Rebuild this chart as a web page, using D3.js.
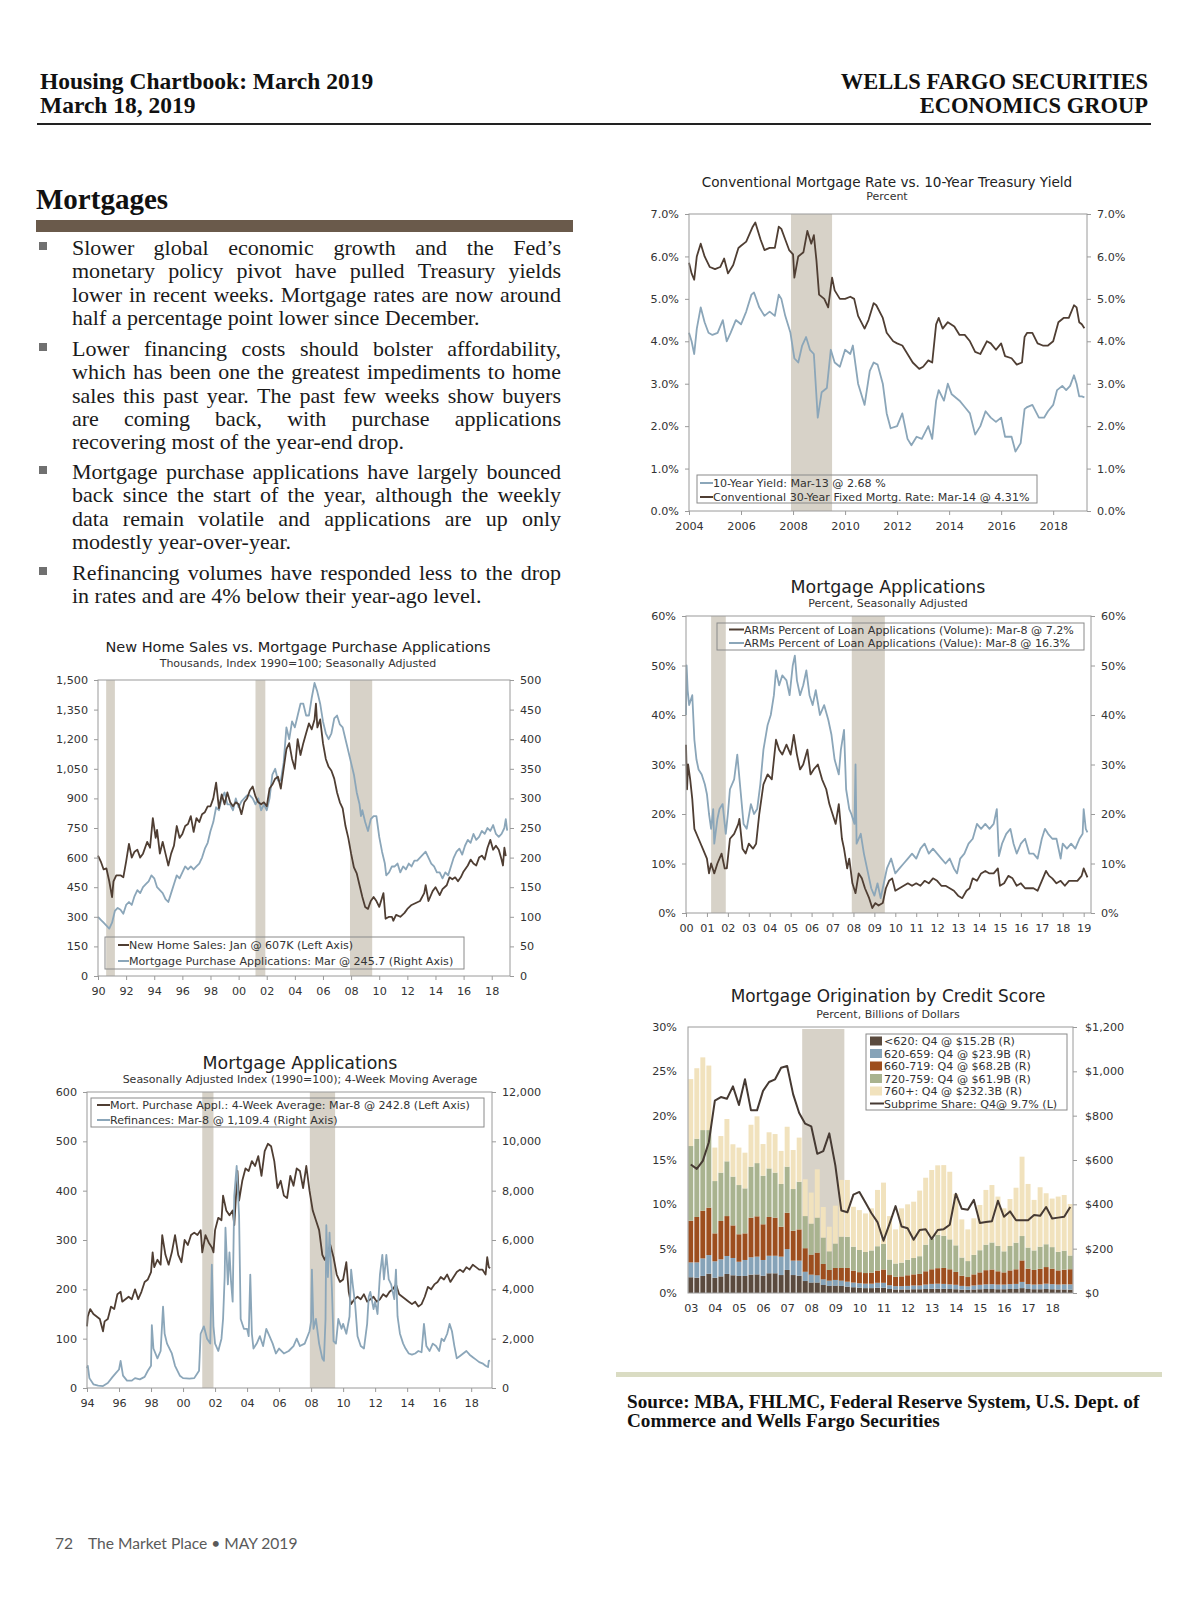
<!DOCTYPE html>
<html>
<head>
<meta charset="utf-8">
<script src="https://cdn.jsdelivr.net/npm/d3@7"></script>
<style>
  body { margin: 0; background: #fff; }
  #page { position: relative; width: 1200px; height: 1606px; overflow: hidden; background: #fff; }
</style>
</head>
<body>
<div id="page"></div>
<script>
// ---------- data ----------
// Conventional mortgage rate vs 10-year treasury [year, %]
const mortgageRate = [[2004.0,5.85],[2004.1,5.6],[2004.2,5.45],[2004.3,6.0],[2004.45,6.3],[2004.6,6.0],[2004.8,5.75],[2005.0,5.7],[2005.2,5.75],[2005.35,5.95],[2005.5,5.6],[2005.7,5.8],[2005.9,6.2],[2006.0,6.25],[2006.2,6.35],[2006.45,6.7],[2006.55,6.8],[2006.75,6.4],[2006.9,6.15],[2007.1,6.2],[2007.3,6.2],[2007.45,6.7],[2007.55,6.65],[2007.7,6.4],[2007.85,6.15],[2008.0,6.05],[2008.05,5.5],[2008.2,6.0],[2008.4,6.1],[2008.55,6.6],[2008.7,6.3],[2008.8,6.5],[2008.9,5.9],[2009.0,5.1],[2009.2,5.0],[2009.35,4.8],[2009.5,5.5],[2009.6,5.2],[2009.8,5.0],[2010.0,5.0],[2010.2,5.05],[2010.35,5.0],[2010.5,4.6],[2010.75,4.3],[2010.9,4.5],[2011.1,4.9],[2011.2,4.85],[2011.45,4.55],[2011.6,4.2],[2011.85,4.0],[2012.0,3.95],[2012.2,3.9],[2012.4,3.7],[2012.6,3.5],[2012.85,3.35],[2013.0,3.4],[2013.2,3.55],[2013.35,3.5],[2013.5,4.4],[2013.6,4.55],[2013.75,4.3],[2013.95,4.45],[2014.2,4.35],[2014.4,4.15],[2014.6,4.15],[2014.8,4.0],[2015.0,3.75],[2015.2,3.7],[2015.45,4.0],[2015.6,3.95],[2015.8,3.8],[2016.0,3.95],[2016.15,3.65],[2016.4,3.6],[2016.6,3.45],[2016.8,3.5],[2016.9,4.1],[2017.0,4.2],[2017.2,4.2],[2017.4,3.95],[2017.6,3.9],[2017.8,3.9],[2018.0,4.0],[2018.2,4.45],[2018.4,4.55],[2018.6,4.55],[2018.8,4.85],[2018.9,4.8],[2019.0,4.45],[2019.1,4.4],[2019.2,4.31]];
const treasuryYield = [[2004.0,4.2],[2004.1,4.0],[2004.2,3.7],[2004.3,4.3],[2004.45,4.8],[2004.6,4.45],[2004.75,4.2],[2004.9,4.15],[2005.1,4.2],[2005.3,4.5],[2005.45,4.0],[2005.6,4.2],[2005.8,4.5],[2006.0,4.4],[2006.2,4.7],[2006.4,5.1],[2006.5,5.15],[2006.7,4.8],[2006.9,4.6],[2007.1,4.7],[2007.3,4.6],[2007.45,5.1],[2007.55,5.0],[2007.7,4.6],[2007.9,4.2],[2008.05,3.6],[2008.2,3.5],[2008.35,3.9],[2008.5,4.1],[2008.65,3.8],[2008.8,3.7],[2008.95,2.2],[2009.1,2.8],[2009.3,2.9],[2009.45,3.8],[2009.6,3.5],[2009.8,3.4],[2010.0,3.8],[2010.2,3.7],[2010.3,3.9],[2010.5,3.0],[2010.75,2.5],[2010.95,3.3],[2011.1,3.5],[2011.25,3.45],[2011.45,3.0],[2011.6,2.3],[2011.75,1.95],[2012.0,2.0],[2012.2,2.3],[2012.4,1.7],[2012.55,1.55],[2012.75,1.75],[2012.95,1.7],[2013.2,2.0],[2013.35,1.7],[2013.5,2.6],[2013.6,2.85],[2013.8,2.6],[2013.95,3.0],[2014.1,2.75],[2014.4,2.6],[2014.6,2.45],[2014.8,2.3],[2015.0,1.8],[2015.2,2.0],[2015.4,2.35],[2015.6,2.2],[2015.8,2.1],[2016.0,2.2],[2016.15,1.75],[2016.4,1.75],[2016.55,1.4],[2016.75,1.6],[2016.9,2.4],[2017.0,2.45],[2017.2,2.5],[2017.45,2.2],[2017.65,2.2],[2017.8,2.35],[2018.0,2.5],[2018.15,2.85],[2018.35,2.95],[2018.5,2.85],[2018.65,2.95],[2018.8,3.2],[2018.9,3.0],[2019.0,2.7],[2019.1,2.7],[2019.2,2.68]];

// ARMs percent of loan applications [year, %]
const armVolume = [[2000.0,34],[2000.05,25],[2000.1,30],[2000.2,27],[2000.3,23],[2000.4,17],[2000.6,15],[2000.8,13],[2001.0,11],[2001.1,8],[2001.2,10],[2001.35,8],[2001.5,10],[2001.7,12],[2001.85,9],[2001.95,9],[2002.1,15],[2002.3,16],[2002.5,18],[2002.55,19],[2002.7,13],[2002.85,12],[2003.0,14],[2003.2,13],[2003.35,14],[2003.5,20],[2003.7,26],[2003.9,28],[2004.1,27],[2004.3,35],[2004.45,33],[2004.6,32],[2004.8,34],[2005.0,32],[2005.15,36],[2005.3,32],[2005.45,29],[2005.6,30],[2005.8,33],[2005.95,28],[2006.1,29],[2006.3,30],[2006.5,27],[2006.7,25],[2006.85,22],[2007.0,20],[2007.15,18],[2007.3,22],[2007.45,15],[2007.55,13],[2007.7,9],[2007.8,11],[2007.95,6],[2008.1,4],[2008.25,8],[2008.4,7],[2008.55,5],[2008.75,3],[2008.9,1],[2009.05,2],[2009.2,1.5],[2009.4,2],[2009.55,5],[2009.7,6.5],[2009.85,7],[2010.0,4.5],[2010.2,5],[2010.4,5.5],[2010.6,6],[2010.8,5.5],[2011.0,6],[2011.2,5.5],[2011.4,6.5],[2011.6,6],[2011.8,7],[2012.0,6.5],[2012.2,5.5],[2012.4,5.5],[2012.6,5],[2012.8,4.5],[2013.0,3.5],[2013.2,3.0],[2013.4,4.5],[2013.55,5],[2013.7,7],[2013.9,6.5],[2014.1,8],[2014.3,8.5],[2014.5,8],[2014.7,8],[2014.9,9],[2015.0,5.5],[2015.2,6],[2015.4,7.5],[2015.6,7],[2015.8,5.5],[2016.0,6],[2016.2,5],[2016.4,5],[2016.6,5],[2016.8,4.5],[2017.0,6.5],[2017.2,8.5],[2017.35,7.5],[2017.5,7],[2017.7,6],[2017.9,6.5],[2018.1,5.5],[2018.3,6.5],[2018.5,6.5],[2018.7,6.5],[2018.9,7.5],[2019.0,9],[2019.1,8],[2019.18,7.2]];
const armValue = [[2000.0,40],[2000.03,50],[2000.08,45],[2000.15,42],[2000.3,44],[2000.4,35],[2000.5,31],[2000.6,29],[2000.75,28],[2000.9,26],[2001.0,24],[2001.1,20],[2001.2,17],[2001.3,21],[2001.35,14],[2001.5,19],[2001.6,21],[2001.75,22],[2001.9,16],[2002.0,20],[2002.1,25],[2002.3,27],[2002.45,32],[2002.6,25],[2002.75,18],[2002.9,17],[2003.1,22],[2003.25,20],[2003.4,21],[2003.55,26],[2003.7,33],[2003.9,38],[2004.05,40],[2004.2,44],[2004.3,49],[2004.45,46],[2004.6,48],[2004.8,47],[2004.95,44],[2005.1,50],[2005.2,52],[2005.3,47],[2005.45,44],[2005.6,46],[2005.75,49],[2005.9,44],[2006.05,42],[2006.2,45],[2006.4,40],[2006.6,42],[2006.8,39],[2006.95,36],[2007.1,31],[2007.3,28],[2007.4,33],[2007.55,37],[2007.65,25],[2007.8,21],[2007.9,20],[2008.05,18],[2008.1,30],[2008.15,14],[2008.35,16],[2008.5,12],[2008.7,8],[2008.85,5],[2009.0,3.5],[2009.15,6],[2009.3,3],[2009.45,6],[2009.6,9],[2009.8,11],[2010.0,8],[2010.2,9],[2010.4,10],[2010.6,11],[2010.8,12],[2011.0,11],[2011.2,13],[2011.4,14],[2011.6,12],[2011.8,13],[2012.0,12],[2012.2,11],[2012.4,10],[2012.6,11],[2012.8,9],[2012.95,8],[2013.1,11],[2013.3,12],[2013.5,14],[2013.7,15],[2013.9,18],[2014.1,17],[2014.3,18],[2014.5,17],[2014.7,18],[2014.85,21],[2014.95,11.5],[2015.1,14],[2015.3,16],[2015.5,17],[2015.65,14],[2015.8,12],[2016.0,14],[2016.2,15],[2016.4,12],[2016.6,12],[2016.8,11],[2017.0,15],[2017.15,17],[2017.3,16],[2017.5,15],[2017.7,15],[2017.9,11],[2018.0,14],[2018.2,13],[2018.4,14],[2018.6,13],[2018.8,15],[2018.95,16],[2019.0,21],[2019.1,17],[2019.18,16.3]];

// New home sales (thousands) and purchase applications index
const newHomeSales = [[1990.0,610],[1990.2,580],[1990.4,540],[1990.6,545],[1990.8,480],[1991.0,400],[1991.1,480],[1991.3,510],[1991.6,510],[1991.8,500],[1992.0,580],[1992.2,670],[1992.4,600],[1992.6,630],[1992.8,640],[1993.0,600],[1993.2,620],[1993.5,680],[1993.7,650],[1993.9,800],[1994.1,700],[1994.2,740],[1994.4,620],[1994.6,680],[1994.8,620],[1995.0,560],[1995.2,620],[1995.4,660],[1995.6,760],[1995.8,700],[1996.0,720],[1996.2,760],[1996.4,770],[1996.6,810],[1996.8,730],[1997.0,800],[1997.2,780],[1997.4,820],[1997.6,830],[1997.8,860],[1998.0,860],[1998.2,900],[1998.4,980],[1998.6,850],[1998.8,920],[1999.0,870],[1999.2,930],[1999.4,880],[1999.6,860],[1999.8,880],[2000.0,870],[2000.2,820],[2000.4,880],[2000.6,900],[2000.8,940],[2001.0,960],[2001.2,910],[2001.4,880],[2001.6,870],[2001.8,880],[2002.0,860],[2002.2,950],[2002.4,970],[2002.6,1000],[2002.8,1010],[2003.0,950],[2003.2,1050],[2003.4,1150],[2003.6,1180],[2003.8,1100],[2004.0,1050],[2004.2,1200],[2004.4,1120],[2004.6,1180],[2004.8,1230],[2005.0,1280],[2005.2,1250],[2005.4,1300],[2005.5,1380],[2005.6,1260],[2005.8,1300],[2006.0,1180],[2006.2,1100],[2006.4,1060],[2006.6,1040],[2006.8,1000],[2007.0,930],[2007.2,880],[2007.4,850],[2007.6,760],[2007.8,700],[2008.0,620],[2008.2,550],[2008.4,520],[2008.6,460],[2008.8,400],[2009.0,350],[2009.2,340],[2009.4,380],[2009.6,400],[2009.8,380],[2010.0,350],[2010.3,420],[2010.45,290],[2010.7,300],[2010.9,300],[2011.0,280],[2011.2,310],[2011.5,300],[2011.8,320],[2012.0,340],[2012.3,360],[2012.6,370],[2012.9,380],[2013.2,420],[2013.3,460],[2013.5,380],[2013.8,430],[2014.0,450],[2014.3,410],[2014.5,440],[2014.8,460],[2015.0,500],[2015.2,490],[2015.4,500],[2015.6,480],[2015.8,500],[2016.0,530],[2016.3,560],[2016.5,590],[2016.7,570],[2016.9,560],[2017.1,600],[2017.3,610],[2017.5,590],[2017.7,650],[2017.9,690],[2018.1,640],[2018.3,660],[2018.5,640],[2018.7,590],[2018.8,560],[2018.9,650],[2019.0,607]];
const purchaseApps = [[1990.0,100],[1990.2,95],[1990.4,90],[1990.6,85],[1990.8,80],[1991.0,90],[1991.2,110],[1991.4,115],[1991.6,112],[1991.8,105],[1992.0,120],[1992.2,125],[1992.4,120],[1992.6,135],[1992.8,145],[1993.0,140],[1993.2,150],[1993.4,155],[1993.6,160],[1993.8,170],[1994.0,165],[1994.2,150],[1994.4,145],[1994.6,140],[1994.8,130],[1995.0,125],[1995.2,140],[1995.4,155],[1995.6,170],[1995.8,165],[1996.0,175],[1996.2,185],[1996.4,180],[1996.6,185],[1996.8,180],[1997.0,185],[1997.2,190],[1997.4,200],[1997.6,215],[1997.8,225],[1998.0,245],[1998.2,260],[1998.4,285],[1998.6,280],[1998.8,300],[1999.0,310],[1999.2,290],[1999.4,290],[1999.6,280],[1999.8,300],[2000.0,285],[2000.2,295],[2000.4,300],[2000.6,305],[2000.8,305],[2001.0,300],[2001.2,290],[2001.4,300],[2001.6,280],[2001.8,290],[2001.9,285],[2002.0,280],[2002.2,300],[2002.4,340],[2002.6,350],[2002.8,330],[2003.0,330],[2003.2,360],[2003.4,420],[2003.6,400],[2003.8,430],[2004.0,420],[2004.2,440],[2004.4,460],[2004.6,460],[2004.8,440],[2005.0,440],[2005.2,470],[2005.4,495],[2005.6,480],[2005.8,460],[2006.0,430],[2006.2,410],[2006.4,400],[2006.6,410],[2006.8,435],[2007.0,440],[2007.2,425],[2007.4,420],[2007.6,400],[2007.8,380],[2008.0,360],[2008.2,340],[2008.4,310],[2008.6,290],[2008.7,270],[2008.8,280],[2009.0,260],[2009.2,245],[2009.4,265],[2009.6,270],[2009.8,270],[2010.0,235],[2010.2,210],[2010.4,190],[2010.5,170],[2010.7,175],[2010.9,185],[2011.1,185],[2011.3,190],[2011.5,175],[2011.7,185],[2011.9,180],[2012.1,190],[2012.3,185],[2012.5,195],[2012.7,195],[2012.9,200],[2013.1,205],[2013.3,210],[2013.5,200],[2013.7,190],[2013.9,185],[2014.1,175],[2014.3,175],[2014.5,165],[2014.7,175],[2014.9,170],[2015.1,185],[2015.3,200],[2015.5,210],[2015.7,215],[2015.9,205],[2016.1,220],[2016.3,230],[2016.5,225],[2016.7,240],[2016.9,230],[2017.1,235],[2017.3,245],[2017.5,240],[2017.7,250],[2017.9,245],[2018.1,255],[2018.3,240],[2018.5,235],[2018.7,240],[2018.9,250],[2019.0,265],[2019.1,245.7]];

// Purchase 4-week average (index) and refinances (index)
const purchase4wk = [[1994.0,125],[1994.05,145],[1994.2,160],[1994.4,150],[1994.6,145],[1994.8,140],[1995.0,115],[1995.1,135],[1995.3,140],[1995.5,165],[1995.7,160],[1995.9,190],[1996.1,195],[1996.2,175],[1996.4,180],[1996.6,185],[1996.8,180],[1997.0,200],[1997.2,180],[1997.4,195],[1997.6,215],[1997.8,220],[1998.0,235],[1998.1,275],[1998.2,245],[1998.4,260],[1998.6,250],[1998.7,310],[1998.9,270],[1999.1,250],[1999.3,275],[1999.5,310],[1999.7,270],[1999.9,255],[2000.1,300],[2000.3,290],[2000.5,310],[2000.7,315],[2000.9,310],[2001.1,320],[2001.2,275],[2001.4,310],[2001.6,295],[2001.8,285],[2001.9,275],[2002.0,320],[2002.2,345],[2002.4,340],[2002.5,390],[2002.7,360],[2002.9,350],[2003.1,360],[2003.2,330],[2003.4,440],[2003.5,380],[2003.7,420],[2003.9,445],[2004.1,440],[2004.3,460],[2004.5,450],[2004.7,470],[2004.9,430],[2005.1,480],[2005.3,495],[2005.5,490],[2005.7,460],[2005.9,405],[2006.1,420],[2006.3,390],[2006.5,385],[2006.7,430],[2006.9,410],[2007.1,445],[2007.3,440],[2007.5,405],[2007.7,450],[2007.9,400],[2008.1,360],[2008.3,340],[2008.5,320],[2008.7,270],[2008.85,260],[2009.0,270],[2009.2,290],[2009.4,265],[2009.6,230],[2009.8,215],[2010.0,220],[2010.2,255],[2010.35,195],[2010.5,170],[2010.7,180],[2010.9,185],[2011.1,180],[2011.3,190],[2011.5,175],[2011.7,180],[2011.9,185],[2012.1,175],[2012.3,180],[2012.5,190],[2012.7,185],[2012.9,195],[2013.1,200],[2013.3,210],[2013.5,190],[2013.7,185],[2013.9,180],[2014.1,175],[2014.3,170],[2014.5,175],[2014.7,165],[2014.9,170],[2015.1,185],[2015.3,205],[2015.5,200],[2015.7,210],[2015.9,215],[2016.1,225],[2016.3,220],[2016.5,230],[2016.7,215],[2016.9,225],[2017.1,235],[2017.3,240],[2017.5,235],[2017.7,245],[2017.9,240],[2018.1,250],[2018.3,245],[2018.5,240],[2018.7,240],[2018.9,230],[2019.0,265],[2019.1,245],[2019.18,242.8]];
const refinances = [[1994.0,800],[1994.05,900],[1994.15,400],[1994.4,150],[1994.7,100],[1995.0,80],[1995.3,200],[1995.6,450],[1995.8,600],[1996.0,750],[1996.1,1100],[1996.25,500],[1996.5,300],[1996.8,300],[1997.0,400],[1997.3,350],[1997.6,450],[1997.8,700],[1998.0,900],[1998.05,2550],[1998.15,1600],[1998.4,1200],[1998.6,1500],[1998.75,3300],[1998.85,2200],[1999.0,1800],[1999.3,1400],[1999.5,900],[1999.8,500],[2000.0,400],[2000.4,380],[2000.7,400],[2001.0,700],[2001.1,2200],[2001.3,2500],[2001.5,2000],[2001.7,1800],[2001.8,5000],[2001.9,2500],[2002.0,1800],[2002.2,1500],[2002.4,2000],[2002.5,2800],[2002.6,4500],[2002.65,6500],[2002.8,4200],[2002.9,5500],[2003.0,4300],[2003.1,3500],[2003.2,7800],[2003.35,9000],[2003.5,7000],[2003.6,2800],[2003.8,2400],[2004.0,2400],[2004.1,2100],[2004.2,4600],[2004.3,2200],[2004.4,1600],[2004.6,1800],[2004.8,2100],[2005.0,1700],[2005.2,2400],[2005.4,2100],[2005.6,1800],[2005.8,1400],[2006.0,1600],[2006.3,1400],[2006.6,1500],[2006.9,1700],[2007.1,2000],[2007.3,1700],[2007.6,1800],[2007.9,2300],[2008.0,2700],[2008.05,4800],[2008.15,2400],[2008.3,2800],[2008.5,1800],[2008.7,1200],[2008.8,1100],[2008.9,2800],[2008.95,6600],[2009.05,4500],[2009.15,6300],[2009.3,4000],[2009.4,1900],[2009.55,1800],[2009.7,2800],[2009.9,2400],[2010.0,2600],[2010.2,2200],[2010.4,2900],[2010.5,4800],[2010.6,4200],[2010.75,3400],[2010.9,2100],[2011.1,1700],[2011.3,1600],[2011.5,2600],[2011.6,3700],[2011.7,3900],[2011.9,3200],[2012.0,3500],[2012.15,3000],[2012.3,4600],[2012.45,5400],[2012.55,4400],[2012.7,5400],[2012.85,4400],[2013.0,4200],[2013.2,3600],[2013.3,4800],[2013.4,2900],[2013.55,2200],[2013.75,1800],[2013.9,1600],[2014.1,1400],[2014.3,1350],[2014.5,1400],[2014.7,1500],[2014.9,1450],[2015.05,2600],[2015.2,1700],[2015.4,1500],[2015.6,1800],[2015.8,1700],[2016.0,1500],[2016.15,2000],[2016.3,1900],[2016.5,2200],[2016.65,2600],[2016.8,2300],[2016.95,1700],[2017.1,1200],[2017.3,1300],[2017.5,1400],[2017.7,1500],[2017.9,1350],[2018.1,1250],[2018.3,1150],[2018.5,1050],[2018.7,1000],[2018.9,900],[2019.05,850],[2019.1,1100],[2019.18,1109.4]];

// Mortgage origination by credit score, $B per quarter, 2003Q1-2018Q4
const originYears = [2003,2004,2005,2006,2007,2008,2009,2010,2011,2012,2013,2014,2015,2016,2017,2018];
const score620 = [71,69,77,87, 69,75,86,80, 77,77,83,84, 78,89,89,81, 104,81,78,54, 47,47,36,32, 33,32,29,26, 24,22,22,24, 24,18,16,16, 16,17,17,18, 19,19,19,18, 17,15,14,16, 17,18,18,17, 17,18,18,22, 18,17,17,18, 17,16,16,15.2];
const score659 = [67,69,79,84, 74,77,81,78, 64,72,78,80, 71,79,79,83, 94,65,68,42, 36,33,26,24, 26,24,22,21, 20,20,20,22, 22,17,15,15, 16,17,17,20, 22,23,22,21, 20,17,16,18, 20,21,22,21, 21,22,23,28, 22,21,22,24, 23,22,23,23.9];
const score719 = [188,205,215,214, 126,173,180,147, 124,120,179,182, 161,175,172,135, 164,135,141,106, 90,102,69,48, 54,57,62,54, 50,48,50,55, 60,46,42,44, 48,50,52,60, 66,70,72,68, 58,46,42,50, 56,64,66,60, 55,62,66,97, 70,66,70,75, 70,64,66,68.2];
const score759 = [337,353,364,350, 236,218,247,220, 222,203,230,240, 219,219,203,193, 208,188,215,145, 140,158,119,84, 110,141,141,108, 100,95,100,110, 115,70,60,62, 70,74,80,120, 140,150,145,135, 120,82,72,88, 100,115,122,115, 95,110,120,110, 95,88,100,103, 97,84,86,61.9];
const score760 = [302,318,328,291, 151,165,191,146, 169,161,189,211, 143,163,174,149, 180,176,199,166, 140,218,138,111, 171,256,256,180, 180,174,190,254, 277,196,154,245, 250,254,296,302, 308,314,319,305, 232,172,143,165, 204,247,259,222, 194,212,248,358, 287,228,268,230, 219,249,251,232.3];
const subprimeShare = [14.5,14.0,14.9,17.0, 21.7,22.1,21.9,23.3, 21.2,24.1,20.6,20.6, 22.8,23.8,24.1,25.4, 25.6,22.4,20.3,19.1, 18.8,15.7,16.0,18.0, 14.4,9.3,9.1,11.1, 11.4,10.2,9.0,8.0, 5.9,7.8,9.8,7.5, 7.3,6.0,7.1,7.2, 6.1,7.1,7.2,7.7, 11.2,9.5,9.4,10.5, 7.9,8.0,8.1,10.4, 8.6,9.2,8.2,8.2, 8.2,8.8,8.7,9.7, 8.4,8.5,8.6,9.7];

// recessions
const recessions90s = [[1990.58,1991.2],[2001.2,2001.9],[2007.92,2009.5]];

// text
const bullets = [
  ["Slower global economic growth and the Fed\u2019s", "monetary policy pivot have pulled Treasury yields", "lower in recent weeks. Mortgage rates are now around", "half a percentage point lower since December."],
  ["Lower financing costs should bolster affordability,", "which has been one the greatest impediments to home", "sales this past year. The past few weeks show buyers", "are coming back, with purchase applications", "recovering most of the year-end drop."],
  ["Mortgage purchase applications have largely bounced", "back since the start of the year, although the weekly", "data remain volatile and applications are up only", "modestly year-over-year."],
  ["Refinancing volumes have responded less to the drop", "in rates and are 4% below their year-ago level."]
];

// ---------- drawing ----------
const SANS = '"DejaVu Sans", Verdana, sans-serif';
const SERIF = '"Liberation Serif", "Times New Roman", serif';
const DARK = '#4f3e33', LIGHT = '#8ba6b9', REC = '#d7d2c8', AXIS = '#9a9a9a', TXT = '#333';
const TICK = 11.2, LEG = 11.1, SUB = 11;

const svg = d3.select('#page').append('svg').attr('width', 1200).attr('height', 1606)
  .style('position', 'absolute').style('left', 0).style('top', 0);

function styleAxis(g, size) {
  g.select('.domain').remove();
  g.selectAll('.tick line').attr('stroke', AXIS);
  g.selectAll('.tick text').attr('fill', TXT).style('font-family', SANS).style('font-size', size + 'px');
}

function lineChart(c) {
  const g = svg.append('g');
  const x = d3.scaleLinear().domain(c.xDomain).range([c.left, c.right]);
  const yL = d3.scaleLinear().domain(c.yL.domain).range([c.bottom, c.top]);
  const yR = d3.scaleLinear().domain(c.yR.domain).range([c.bottom, c.top]);

  g.selectAll('rect.rec').data(c.recessions).join('rect').attr('class', 'rec')
    .attr('x', d => x(d[0])).attr('width', d => x(d[1]) - x(d[0]))
    .attr('y', c.top).attr('height', c.bottom - c.top).attr('fill', REC);

  c.series.forEach(s => {
    const ys = s.axis === 'R' ? yR : yL;
    g.append('path').datum(s.data)
      .attr('d', d3.line().x(d => x(d[0])).y(d => ys(d[1])))
      .attr('fill', 'none').attr('stroke', s.color).attr('stroke-width', 1.8)
      .attr('stroke-linejoin', 'round');
  });

  g.append('rect').attr('x', c.left).attr('y', c.top)
    .attr('width', c.right - c.left).attr('height', c.bottom - c.top)
    .attr('fill', 'none').attr('stroke', AXIS).attr('stroke-width', 1);

  g.append('g').attr('transform', `translate(${c.left},0)`)
    .call(d3.axisLeft(yL).tickValues(c.yL.ticks).tickFormat(c.yL.format).tickSize(4).tickPadding(6))
    .call(a => styleAxis(a, TICK));
  g.append('g').attr('transform', `translate(${c.right},0)`)
    .call(d3.axisRight(yR).tickValues(c.yR.ticks).tickFormat(c.yR.format).tickSize(4).tickPadding(6))
    .call(a => styleAxis(a, TICK));
  g.append('g').attr('transform', `translate(0,${c.bottom})`)
    .call(d3.axisBottom(x).tickValues(c.xTicks).tickFormat(c.xFormat).tickSize(4).tickPadding(7))
    .call(a => styleAxis(a, TICK));

  drawTitles(g, c);
  drawLegend(g, c.legend);
}

function drawTitles(g, c) {
  g.append('text').attr('x', c.title.x).attr('y', c.title.y).attr('text-anchor', 'middle')
    .style('font-family', SANS).style('font-size', c.title.size + 'px').attr('fill', '#222')
    .text(c.title.text);
  g.append('text').attr('x', c.title.x).attr('y', c.subtitle.y).attr('text-anchor', 'middle')
    .style('font-family', SANS).style('font-size', SUB + 'px').attr('fill', TXT)
    .text(c.subtitle.text);
}

function drawLegend(g, lg) {
  g.append('rect').attr('x', lg.x0).attr('y', lg.y0).attr('width', lg.x1 - lg.x0).attr('height', lg.y1 - lg.y0)
    .attr('fill', 'none').attr('stroke', '#8a8a8a').attr('stroke-width', 1);
  lg.rows.forEach((r, i) => {
    const cy = lg.y0 + lg.first + i * lg.step;
    if (r.kind === 'box') {
      g.append('rect').attr('x', lg.sx).attr('y', cy - 4.5).attr('width', lg.tx - lg.sx - 2).attr('height', 9).attr('fill', r.color);
    } else {
      g.append('line').attr('x1', lg.sx).attr('x2', lg.tx).attr('y1', cy).attr('y2', cy)
        .attr('stroke', r.color).attr('stroke-width', 2);
    }
    g.append('text').attr('x', lg.tx).attr('y', cy + 4)
      .style('font-family', SANS).style('font-size', LEG + 'px').attr('fill', TXT).text(r.text);
  });
}

const yy = d => String(d % 100).padStart(2, '0');

function draw() {
  // header
  const hdr = svg.append('g').style('font-family', SERIF).style('font-weight', 'bold').attr('fill', '#111');
  hdr.append('text').attr('x', 40).attr('y', 89).style('font-size', '23.5px').text('Housing Chartbook: March 2019');
  hdr.append('text').attr('x', 40).attr('y', 113).style('font-size', '23.5px').text('March 18, 2019');
  hdr.append('text').attr('x', 1148).attr('y', 89).attr('text-anchor', 'end').style('font-size', '22.5px').text('WELLS FARGO SECURITIES');
  hdr.append('text').attr('x', 1148).attr('y', 113).attr('text-anchor', 'end').style('font-size', '22.5px').text('ECONOMICS GROUP');
  svg.append('line').attr('x1', 37).attr('x2', 1151).attr('y1', 124).attr('y2', 124).attr('stroke', '#222').attr('stroke-width', 2);

  hdr.append('text').attr('x', 36).attr('y', 209).style('font-size', '29px').text('Mortgages');
  svg.append('rect').attr('x', 36).attr('y', 220).attr('width', 537).attr('height', 12).attr('fill', '#6a5a4b');

  // body text, justified word by word
  const body = svg.append('g').style('font-family', SERIF).style('font-size', '22px').attr('fill', '#1a1a1a');
  const paraTop = [255, 356, 479, 580];
  bullets.forEach((lines, p) => {
    svg.append('rect').attr('x', 39).attr('y', paraTop[p] - 13).attr('width', 8).attr('height', 8).attr('fill', '#707070');
    lines.forEach((line, i) => {
      const y = paraTop[p] + i * 23.3;
      const justify = i < lines.length - 1;
      const t = body.append('text').attr('y', y);
      if (!justify) { t.attr('x', 72).text(line); return; }
      const words = line.split(' ');
      const spans = words.map(w => t.append('tspan').text(w));
      const widths = spans.map(s => s.node().getComputedTextLength());
      const gap = (561 - 72 - d3.sum(widths)) / (words.length - 1);
      let cx = 72;
      spans.forEach((s, k) => { s.attr('x', cx); cx += widths[k] + gap; });
    });
  });

  // chart 1: rates
  lineChart({
    left: 689, right: 1087, top: 214, bottom: 511,
    xDomain: [2004, 2019.3], xTicks: d3.range(2004, 2019, 2), xFormat: d => d,
    yL: { domain: [0, 7], ticks: d3.range(0, 8), format: d => d.toFixed(1) + '%' },
    yR: { domain: [0, 7], ticks: d3.range(0, 8), format: d => d.toFixed(1) + '%' },
    recessions: [[2007.92, 2009.5]],
    series: [{ data: treasuryYield, axis: 'L', color: LIGHT }, { data: mortgageRate, axis: 'L', color: DARK }],
    title: { text: 'Conventional Mortgage Rate vs. 10-Year Treasury Yield', x: 887, y: 187, size: 13.6 },
    subtitle: { text: 'Percent', y: 200 },
    legend: { x0: 697, x1: 1037, y0: 475, y1: 503, first: 8, step: 14, sx: 700, tx: 713,
      rows: [{ text: '10-Year Yield: Mar-13 @ 2.68 %', color: LIGHT }, { text: 'Conventional 30-Year Fixed Mortg. Rate: Mar-14 @ 4.31%', color: DARK }] }
  });

  // chart 2: ARMs
  lineChart({
    left: 686, right: 1091, top: 616, bottom: 913,
    xDomain: [2000, 2019.35], xTicks: d3.range(2000, 2020), xFormat: yy,
    yL: { domain: [0, 60], ticks: d3.range(0, 61, 10), format: d => d + '%' },
    yR: { domain: [0, 60], ticks: d3.range(0, 61, 10), format: d => d + '%' },
    recessions: [[2001.2, 2001.9], [2007.92, 2009.5]],
    series: [{ data: armValue, axis: 'L', color: LIGHT }, { data: armVolume, axis: 'L', color: DARK }],
    title: { text: 'Mortgage Applications', x: 888, y: 593, size: 17.4 },
    subtitle: { text: 'Percent, Seasonally Adjusted', y: 607 },
    legend: { x0: 717, x1: 1084, y0: 623, y1: 650, first: 6.5, step: 13.5, sx: 729, tx: 744,
      rows: [{ text: 'ARMs Percent of Loan Applications (Volume): Mar-8 @ 7.2%', color: DARK }, { text: 'ARMs Percent of Loan Applications (Value): Mar-8 @ 16.3%', color: LIGHT }] }
  });

  // chart 3: new home sales vs purchase apps
  lineChart({
    left: 98, right: 510, top: 680, bottom: 976,
    xDomain: [1990, 2019.3], xTicks: d3.range(1990, 2019, 2), xFormat: yy,
    yL: { domain: [0, 1500], ticks: d3.range(0, 1501, 150), format: d3.format(',') },
    yR: { domain: [0, 500], ticks: d3.range(0, 501, 50), format: d3.format(',') },
    recessions: recessions90s,
    series: [{ data: purchaseApps, axis: 'R', color: LIGHT }, { data: newHomeSales, axis: 'L', color: DARK }],
    title: { text: 'New Home Sales vs. Mortgage Purchase Applications', x: 298, y: 652, size: 14.5 },
    subtitle: { text: 'Thousands, Index 1990=100;  Seasonally Adjusted', y: 667 },
    legend: { x0: 105, x1: 464, y0: 937, y1: 969, first: 8, step: 16, sx: 118, tx: 129,
      rows: [{ text: 'New Home Sales: Jan @ 607K (Left Axis)', color: DARK }, { text: 'Mortgage Purchase Applications: Mar @ 245.7 (Right Axis)', color: LIGHT }] }
  });

  // chart 4: purchase vs refinance
  lineChart({
    left: 87, right: 492, top: 1092, bottom: 1388,
    xDomain: [1994, 2019.3], xTicks: d3.range(1994, 2019, 2), xFormat: yy,
    yL: { domain: [0, 600], ticks: d3.range(0, 601, 100), format: d => d },
    yR: { domain: [0, 12000], ticks: d3.range(0, 12001, 2000), format: d3.format(',') },
    recessions: [[2001.2, 2001.9], [2007.92, 2009.5]],
    series: [{ data: purchase4wk, axis: 'L', color: DARK }, { data: refinances, axis: 'R', color: LIGHT }],
    title: { text: 'Mortgage Applications', x: 300, y: 1069, size: 17.4 },
    subtitle: { text: 'Seasonally Adjusted Index (1990=100);  4-Week Moving Average', y: 1083 },
    legend: { x0: 91, x1: 484, y0: 1098, y1: 1127, first: 7, step: 15, sx: 97, tx: 110,
      rows: [{ text: 'Mort. Purchase Appl.: 4-Week Average: Mar-8 @ 242.8 (Left Axis)', color: DARK }, { text: 'Refinances: Mar-8 @ 1,109.4 (Right Axis)', color: LIGHT }] }
  });

  // chart 5: origination by credit score
  const c5 = { left: 688, right: 1073, top: 1027, bottom: 1293 };
  const quarters = originYears.flatMap(y => [1, 2, 3, 4].map(q => y + 'Q' + q));
  const rows = quarters.map((q, i) => ({ q, s620: score620[i], s659: score659[i], s719: score719[i], s759: score759[i], s760: score760[i] }));
  const keys = ['s620', 's659', 's719', 's759', 's760'];
  const colors = { s620: '#5a4a3e', s659: '#86a3b8', s719: '#9d4e1e', s759: '#a9b38f', s760: '#f1e2bd' };
  const xb = d3.scaleBand().domain(quarters).range([c5.left, c5.right]).paddingInner(0.18).paddingOuter(0.05);
  const yM = d3.scaleLinear().domain([0, 1200]).range([c5.bottom, c5.top]);
  const yP = d3.scaleLinear().domain([0, 30]).range([c5.bottom, c5.top]);
  const g5 = svg.append('g');
  const step = xb.step();
  g5.append('rect').attr('x', xb('2007Q4') - step * xb.paddingInner() / 2).attr('y', c5.top + 2)
    .attr('width', xb('2009Q2') - xb('2007Q4') + step).attr('height', c5.bottom - c5.top - 2).attr('fill', REC);
  const stack = d3.stack().keys(keys)(rows);
  g5.selectAll('g.layer').data(stack).join('g').attr('class', 'layer').attr('fill', d => colors[d.key])
    .selectAll('rect').data(d => d).join('rect')
    .attr('x', d => xb(d.data.q)).attr('width', xb.bandwidth())
    .attr('y', d => yM(d[1])).attr('height', d => yM(d[0]) - yM(d[1]));
  g5.append('path').datum(subprimeShare)
    .attr('d', d3.line().x((d, i) => xb(quarters[i]) + xb.bandwidth() / 2).y(d => yP(d)))
    .attr('fill', 'none').attr('stroke', '#463a33').attr('stroke-width', 2).attr('stroke-linejoin', 'round');
  g5.append('rect').attr('x', c5.left).attr('y', c5.top).attr('width', c5.right - c5.left).attr('height', c5.bottom - c5.top)
    .attr('fill', 'none').attr('stroke', AXIS);
  g5.append('g').attr('transform', `translate(${c5.left},0)`)
    .call(d3.axisLeft(yP).tickValues(d3.range(0, 31, 5)).tickFormat(d => d + '%').tickSize(0).tickPadding(11))
    .call(a => styleAxis(a, TICK));
  g5.append('g').attr('transform', `translate(${c5.right},0)`)
    .call(d3.axisRight(yM).tickValues(d3.range(0, 1201, 200)).tickFormat(d => '$' + d3.format(',')(d)).tickSize(4).tickPadding(8))
    .call(a => styleAxis(a, TICK));
  const xq = d3.scalePoint().domain(originYears).range([xb(quarters[0]) + xb.bandwidth() / 2, xb('2018Q1') + xb.bandwidth() / 2]);
  g5.append('g').attr('transform', `translate(0,${c5.bottom})`)
    .call(d3.axisBottom(xq).tickFormat(yy).tickSize(0).tickPadding(11))
    .call(a => styleAxis(a, TICK));
  drawTitles(g5, { title: { text: 'Mortgage Origination by Credit Score', x: 888, y: 1002, size: 16.9 }, subtitle: { text: 'Percent, Billions of Dollars', y: 1018 } });
  drawLegend(g5, { x0: 866, x1: 1067, y0: 1034, y1: 1110, first: 7, step: 12.5, sx: 870, tx: 884,
    rows: [
      { text: '<620: Q4 @ $15.2B (R)', color: colors.s620, kind: 'box' },
      { text: '620-659: Q4 @ $23.9B (R)', color: colors.s659, kind: 'box' },
      { text: '660-719: Q4 @ $68.2B (R)', color: colors.s719, kind: 'box' },
      { text: '720-759: Q4 @ $61.9B (R)', color: colors.s759, kind: 'box' },
      { text: '760+: Q4 @ $232.3B (R)', color: colors.s760, kind: 'box' },
      { text: 'Subprime Share: Q4@ 9.7% (L)', color: '#463a33' }
    ] });

  // source block
  svg.append('rect').attr('x', 616).attr('y', 1372).attr('width', 546).attr('height', 5).attr('fill', '#dadcc3');
  const src = svg.append('g').style('font-family', SERIF).style('font-weight', 'bold').style('font-size', '19.2px').attr('fill', '#111');
  src.append('text').attr('x', 627).attr('y', 1408).text('Source: MBA, FHLMC, Federal Reserve System, U.S. Dept. of');
  src.append('text').attr('x', 627).attr('y', 1427).text('Commerce and Wells Fargo Securities');

  // footer
  const ft = svg.append('g').style('font-family', 'Lato, "Open Sans", sans-serif').style('font-size', '15.6px').attr('fill', '#5a5a5a');
  ft.append('text').attr('x', 55).attr('y', 1549).text('72');
  ft.append('text').attr('x', 88).attr('y', 1549).text('The Market Place \u2022 MAY 2019');
}

document.fonts.ready.then(draw);
</script>
</body>
</html>
